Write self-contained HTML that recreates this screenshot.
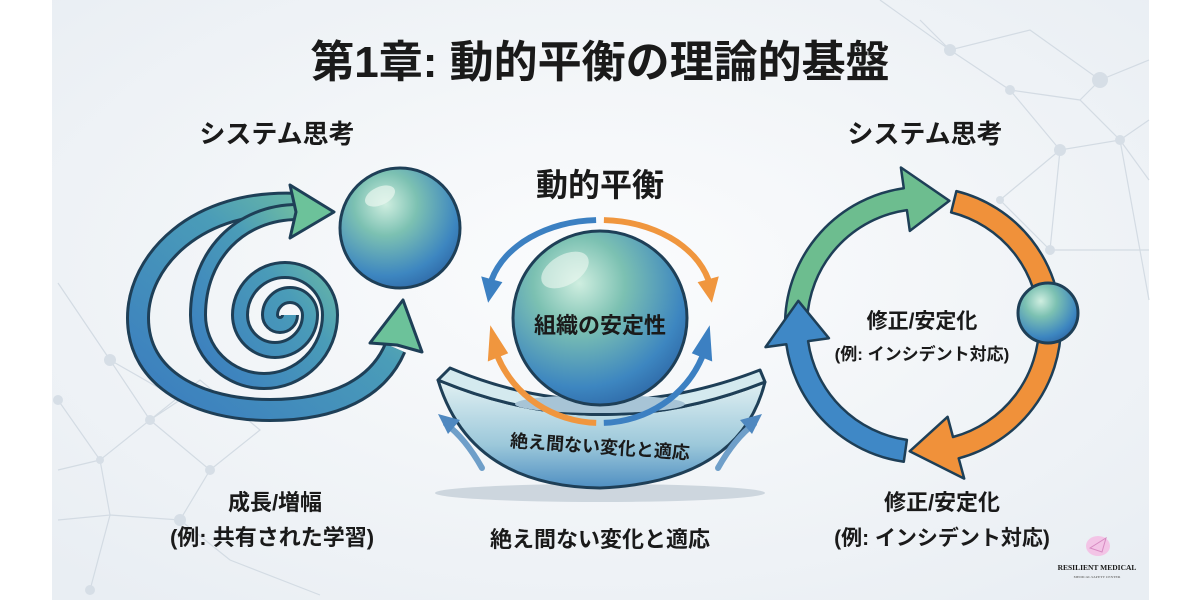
<!DOCTYPE html>
<html><head><meta charset="utf-8">
<style>
html,body{margin:0;padding:0;background:#fff;}
svg{display:block;}
text{font-family:"Liberation Sans","Noto Sans CJK JP",sans-serif;font-weight:bold;fill:#1a1a1a;}
</style></head>
<body>
<svg id="s" width="1200" height="600" viewBox="0 0 1200 600" xmlns="http://www.w3.org/2000/svg">
<defs>
<radialGradient id="bg" cx="0.5" cy="0.45" r="0.7">
<stop offset="0" stop-color="#fbfcfd"/><stop offset="1" stop-color="#e9eef3"/>
</radialGradient>
<linearGradient id="sp" x1="0" y1="1" x2="1" y2="0">
<stop offset="0" stop-color="#3a7cc0"/><stop offset="0.6" stop-color="#4a9cb8"/><stop offset="1" stop-color="#7cc89a"/>
</linearGradient>
<radialGradient id="ball" cx="0.38" cy="0.3" r="0.75">
<stop offset="0" stop-color="#cfeee0"/><stop offset="0.35" stop-color="#7cc1b2"/><stop offset="0.8" stop-color="#3d86c0"/><stop offset="1" stop-color="#2f6aa8"/>
</radialGradient>
<linearGradient id="bowl" x1="0" y1="0" x2="0" y2="1">
<stop offset="0" stop-color="#e2f1f3"/><stop offset="0.6" stop-color="#9cc8da"/><stop offset="1" stop-color="#4f8fc2"/>
</linearGradient>
</defs>
<rect x="0" y="0" width="1200" height="600" fill="#fff"/>
<rect x="52" y="0" width="1097" height="600" fill="url(#bg)"/>
<g stroke="#d3dbe3" stroke-width="1.2" fill="none">
<path d="M58,283 L110,360 L150,420 L100,460 L58,400 M110,360 L180,400 L150,420 L210,470 L180,520 L110,515 L100,460 M180,520 L230,560 L320,595 M58,520 L110,515 L90,590 M150,420 L200,380 L260,430 L210,470 M58,470 L100,460"/>
<path d="M880,0 L950,50 L1030,30 L1100,80 L1149,60 M950,50 L1010,90 L1080,100 L1120,140 L1149,120 M1010,90 L1060,150 L1120,140 L1149,180 M1060,150 L1050,250 L1149,250 M1060,150 L1000,200 L1050,250 M1100,80 L1080,100 M950,50 L920,20 M1120,140 L1149,300"/>
</g>
<g fill="#d6dee6">
<circle cx="110" cy="360" r="6"/><circle cx="150" cy="420" r="5"/><circle cx="100" cy="460" r="4"/><circle cx="180" cy="520" r="6"/><circle cx="210" cy="470" r="5"/><circle cx="58" cy="400" r="5"/><circle cx="90" cy="590" r="5"/>
<circle cx="950" cy="50" r="6"/><circle cx="1100" cy="80" r="8"/><circle cx="1010" cy="90" r="5"/><circle cx="1060" cy="150" r="6"/><circle cx="1120" cy="140" r="5"/><circle cx="1050" cy="250" r="5"/><circle cx="1000" cy="200" r="4"/>
</g>

<text x="600" y="77" font-size="44" text-anchor="middle">第1章: 動的平衡の理論的基盤</text>
<text x="277" y="143" font-size="26" text-anchor="middle">システム思考</text>
<text x="925" y="143" font-size="26" text-anchor="middle">システム思考</text>
<text x="600" y="196" font-size="32" text-anchor="middle">動的平衡</text>

<!-- left spiral -->
<g fill="none">
<path id="outerL" d="M300,204 C195,198 138,262 138,318 C138,380 200,410 270,410 C335,410 378,388 395,348"/>
<path id="spir" d="M290,315 A10,10 0 0 1 270,315 A20,20 0 0 1 310,315 A35,35 0 0 1 240,315 A45,45 0 0 1 330,315 A66,66 0 0 1 198,315 C198,255 240,212 298,212"/>
</g>
<use href="#outerL" stroke="#1e3f57" stroke-width="24" fill="none"/>
<use href="#outerL" stroke="url(#sp)" stroke-width="18" fill="none"/>
<use href="#spir" stroke="#1e3f57" stroke-width="18" fill="none"/>
<use href="#spir" stroke="url(#sp)" stroke-width="12" fill="none"/>
<polygon points="290,185 334,212 290,238 296,212" fill="#6cc29a" stroke="#1e3f57" stroke-width="3" stroke-linejoin="round"/>
<polygon points="370,343 403,300 422,352 397,345" fill="#6cc29a" stroke="#1e3f57" stroke-width="3" stroke-linejoin="round"/>
<circle cx="400" cy="228" r="60" fill="url(#ball)" stroke="#1e3f57" stroke-width="3"/>
<ellipse cx="380" cy="196" rx="16" ry="9" fill="#eaf7f0" opacity="0.7" transform="rotate(-25 380 196)"/>

<text x="275" y="510" font-size="22" text-anchor="middle">成長/増幅</text>
<text x="272" y="545" font-size="22" text-anchor="middle">(例: 共有された学習)</text>

<!-- bowl -->
<ellipse cx="600" cy="493" rx="165" ry="9" fill="#cdd6de"/>
<path d="M438,380 Q600,448 765,382 Q740,482 600,488 Q470,486 438,380 Z" fill="url(#bowl)" stroke="#1e3f57" stroke-width="3" stroke-linejoin="round"/>
<path d="M438,380 L450,368 Q600,432 760,370 L765,382 Q600,448 438,380 Z" fill="#d4eaef" stroke="#1e3f57" stroke-width="3" stroke-linejoin="round"/>
<ellipse cx="600" cy="404" rx="85" ry="9" fill="#a7c4d6"/>
<text x="600" y="453" font-size="18" text-anchor="middle" transform="rotate(4 600 447)">絶え間ない変化と適応</text>
<g fill="none" stroke-width="6" stroke-linecap="round">
<path d="M482,468 Q465,438 446,424" stroke="#6f9fc9"/>
<path d="M718,468 Q735,438 754,424" stroke="#6f9fc9"/>
</g>
<polygon points="438,414 460,420 448,434" fill="#4f88c0"/>
<polygon points="762,414 740,420 752,434" fill="#4f88c0"/>

<g id="arcs"></g>
<circle cx="600" cy="318" r="87" fill="url(#ball)" stroke="#1e3f57" stroke-width="3"/>
<ellipse cx="565" cy="270" rx="26" ry="15" fill="#eef8f2" opacity="0.6" transform="rotate(-30 565 270)"/>
<text x="600" y="333" font-size="22" text-anchor="middle">組織の安定性</text>
<g id="arcs2"></g>

<text x="600" y="547" font-size="22" text-anchor="middle">絶え間ない変化と適応</text>

<!-- right ring -->
<g id="ring"></g>
<circle cx="1048" cy="313" r="30" fill="url(#ball)" stroke="#1e3f57" stroke-width="3"/>
<text x="922" y="328" font-size="21" text-anchor="middle">修正/安定化</text>
<text x="922" y="360" font-size="17" text-anchor="middle">(例: インシデント対応)</text>
<text x="942" y="510" font-size="22" text-anchor="middle">修正/安定化</text>
<text x="942" y="545" font-size="21" text-anchor="middle">(例: インシデント対応)</text>

<!-- logo -->
<ellipse cx="1098" cy="546" rx="12" ry="10" fill="#f3c4e6"/>
<path d="M1090,548 L1106,538 L1102,552 Z" fill="none" stroke="#d78ac2" stroke-width="1"/>
<text x="1097" y="570" font-size="7.5" text-anchor="middle" style="font-family:'Liberation Serif',serif">RESILIENT MEDICAL</text>
<text x="1097" y="578" font-size="3.5" text-anchor="middle" style="font-family:'Liberation Serif',serif;fill:#777">MEDICAL SAFETY CENTER</text>
</svg>
<script>
function P(cx,cy,rx,ry,a){a=a*Math.PI/180;return (cx+rx*Math.cos(a)).toFixed(1)+','+(cy+ry*Math.sin(a)).toFixed(1);}
function arrow(cx,cy,rx,ry,a0,a1,a2,w,hw,fill,stroke,sw){
 var cw=a1>a0?1:0, large=Math.abs(a1-a0)>180?1:0, h=w/2;
 var d='M'+P(cx,cy,rx+h,ry+h,a0)+' A'+(rx+h)+','+(ry+h)+' 0 '+large+' '+cw+' '+P(cx,cy,rx+h,ry+h,a1)+
 ' L'+P(cx,cy,rx+hw,ry+hw,a1)+' L'+P(cx,cy,rx,ry,a2)+' L'+P(cx,cy,rx-hw,ry-hw,a1)+
 ' L'+P(cx,cy,rx-h,ry-h,a1)+' A'+(rx-h)+','+(ry-h)+' 0 '+large+' '+(1-cw)+' '+P(cx,cy,rx-h,ry-h,a0)+' Z';
 return '<path d="'+d+'" fill="'+fill+'" stroke="'+stroke+'" stroke-width="'+sw+'" stroke-linejoin="round"/>';
}
function put(id,html){document.getElementById(id).innerHTML=html;}
var r='';
r+=arrow(923,325,127,127,182,262,282,22,32,'#6dbd8f','#1e3f57',2.5);
r+=arrow(923,325,127,127,284,435,96,22,32,'#f0913a','#1e3f57',2.5);
r+=arrow(923,325,127,127,98,172,191,22,32,'#3f88c6','#1e3f57',2.5);
put('ring',r);
var a='';
a+=arrow(600,318,110,105,92,158,176,6,11,'#f0963e','none',0);
a+=arrow(600,318,110,105,88,22,4,6,11,'#3c80c2','none',0);
put('arcs',a);
var b='';
b+=arrow(600,300,112,80,268,195,178,6,11,'#3c80c2','none',0);
b+=arrow(600,300,112,80,272,345,2,6,11,'#f0963e','none',0);
put('arcs2',b);
</script>
</body></html>
